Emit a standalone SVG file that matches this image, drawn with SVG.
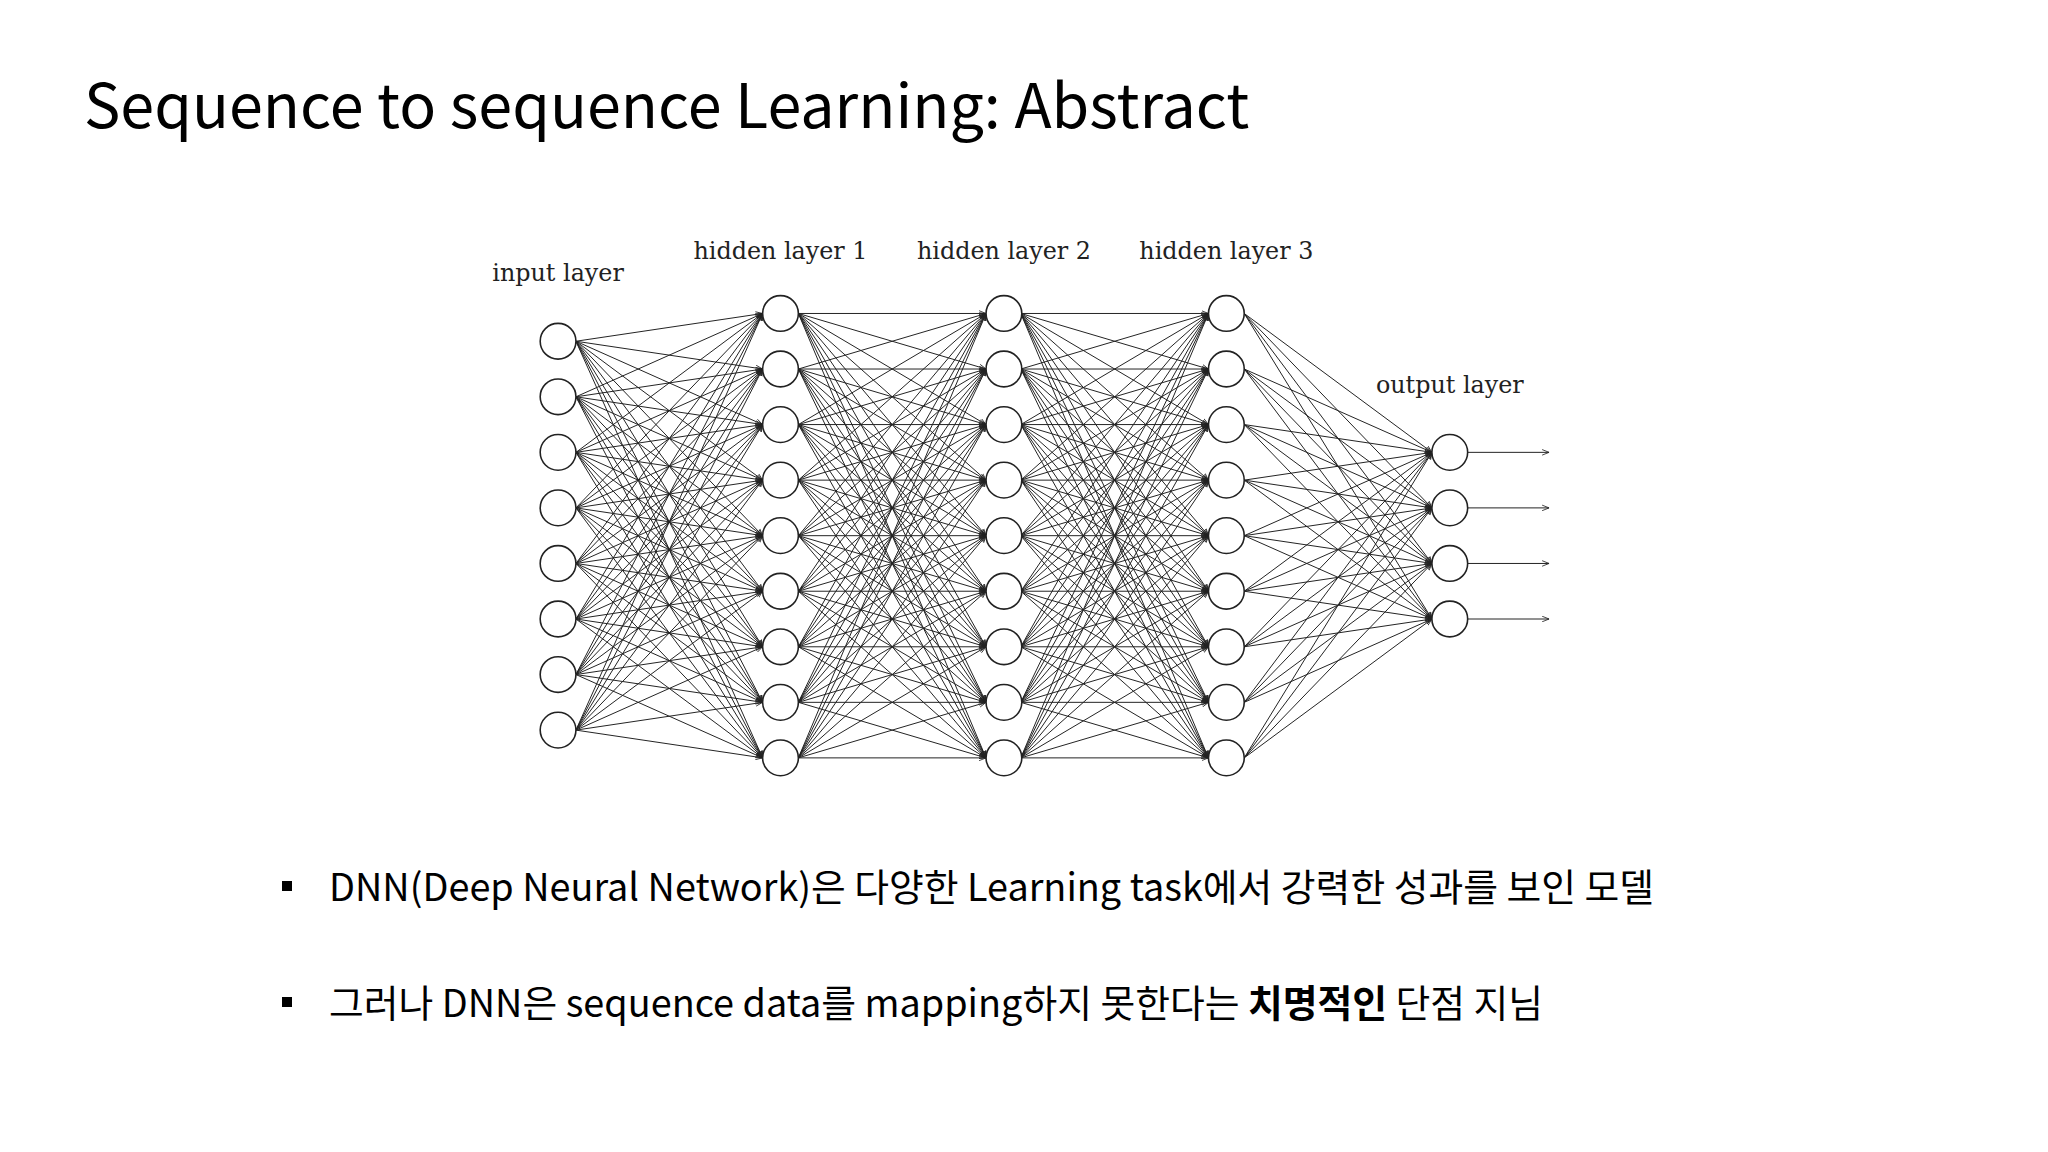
<svg xmlns="http://www.w3.org/2000/svg" xmlns:xlink="http://www.w3.org/1999/xlink" width="2048" height="1152" viewBox="0 0 2048 1152">
<style>
.t{font-family:"Noto Sans CJK KR","Noto Sans",sans-serif;fill:#000}
.lbl{font-family:"DejaVu Serif","Liberation Serif",serif;font-size:24px;fill:#222;text-anchor:middle}
.n circle{fill:#fff;stroke:#222;stroke-width:1.6}
</style>
<defs>
<marker id="a" viewBox="0 0 10 10" refX="10" refY="5" markerWidth="7" markerHeight="7" orient="auto"><path d="M0,1 L10,5 L0,9" fill="none" stroke="#222" stroke-width="1.2"/></marker>
<g id="hh" stroke="#222" stroke-width="1" marker-end="url(#a)">
<line x1="804" y1="316" x2="993" y2="316"/><line x1="804" y1="316" x2="993" y2="372"/><line x1="804" y1="316" x2="993" y2="428"/><line x1="804" y1="316" x2="993" y2="484"/><line x1="804" y1="316" x2="993" y2="540"/><line x1="804" y1="316" x2="993" y2="596"/><line x1="804" y1="316" x2="993" y2="652"/><line x1="804" y1="316" x2="993" y2="708"/><line x1="804" y1="316" x2="993" y2="764"/>
<line x1="804" y1="372" x2="993" y2="316"/><line x1="804" y1="372" x2="993" y2="372"/><line x1="804" y1="372" x2="993" y2="428"/><line x1="804" y1="372" x2="993" y2="484"/><line x1="804" y1="372" x2="993" y2="540"/><line x1="804" y1="372" x2="993" y2="596"/><line x1="804" y1="372" x2="993" y2="652"/><line x1="804" y1="372" x2="993" y2="708"/><line x1="804" y1="372" x2="993" y2="764"/>
<line x1="804" y1="428" x2="993" y2="316"/><line x1="804" y1="428" x2="993" y2="372"/><line x1="804" y1="428" x2="993" y2="428"/><line x1="804" y1="428" x2="993" y2="484"/><line x1="804" y1="428" x2="993" y2="540"/><line x1="804" y1="428" x2="993" y2="596"/><line x1="804" y1="428" x2="993" y2="652"/><line x1="804" y1="428" x2="993" y2="708"/><line x1="804" y1="428" x2="993" y2="764"/>
<line x1="804" y1="484" x2="993" y2="316"/><line x1="804" y1="484" x2="993" y2="372"/><line x1="804" y1="484" x2="993" y2="428"/><line x1="804" y1="484" x2="993" y2="484"/><line x1="804" y1="484" x2="993" y2="540"/><line x1="804" y1="484" x2="993" y2="596"/><line x1="804" y1="484" x2="993" y2="652"/><line x1="804" y1="484" x2="993" y2="708"/><line x1="804" y1="484" x2="993" y2="764"/>
<line x1="804" y1="540" x2="993" y2="316"/><line x1="804" y1="540" x2="993" y2="372"/><line x1="804" y1="540" x2="993" y2="428"/><line x1="804" y1="540" x2="993" y2="484"/><line x1="804" y1="540" x2="993" y2="540"/><line x1="804" y1="540" x2="993" y2="596"/><line x1="804" y1="540" x2="993" y2="652"/><line x1="804" y1="540" x2="993" y2="708"/><line x1="804" y1="540" x2="993" y2="764"/>
<line x1="804" y1="596" x2="993" y2="316"/><line x1="804" y1="596" x2="993" y2="372"/><line x1="804" y1="596" x2="993" y2="428"/><line x1="804" y1="596" x2="993" y2="484"/><line x1="804" y1="596" x2="993" y2="540"/><line x1="804" y1="596" x2="993" y2="596"/><line x1="804" y1="596" x2="993" y2="652"/><line x1="804" y1="596" x2="993" y2="708"/><line x1="804" y1="596" x2="993" y2="764"/>
<line x1="804" y1="652" x2="993" y2="316"/><line x1="804" y1="652" x2="993" y2="372"/><line x1="804" y1="652" x2="993" y2="428"/><line x1="804" y1="652" x2="993" y2="484"/><line x1="804" y1="652" x2="993" y2="540"/><line x1="804" y1="652" x2="993" y2="596"/><line x1="804" y1="652" x2="993" y2="652"/><line x1="804" y1="652" x2="993" y2="708"/><line x1="804" y1="652" x2="993" y2="764"/>
<line x1="804" y1="708" x2="993" y2="316"/><line x1="804" y1="708" x2="993" y2="372"/><line x1="804" y1="708" x2="993" y2="428"/><line x1="804" y1="708" x2="993" y2="484"/><line x1="804" y1="708" x2="993" y2="540"/><line x1="804" y1="708" x2="993" y2="596"/><line x1="804" y1="708" x2="993" y2="652"/><line x1="804" y1="708" x2="993" y2="708"/><line x1="804" y1="708" x2="993" y2="764"/>
<line x1="804" y1="764" x2="993" y2="316"/><line x1="804" y1="764" x2="993" y2="372"/><line x1="804" y1="764" x2="993" y2="428"/><line x1="804" y1="764" x2="993" y2="484"/><line x1="804" y1="764" x2="993" y2="540"/><line x1="804" y1="764" x2="993" y2="596"/><line x1="804" y1="764" x2="993" y2="652"/><line x1="804" y1="764" x2="993" y2="708"/><line x1="804" y1="764" x2="993" y2="764"/>
</g>
</defs>
<rect width="2048" height="1152" fill="#fff"/>
<text class="t" x="84" y="128" font-size="61">Sequence to sequence Learning: Abstract</text>
<g transform="matrix(0.993 0 0 0.992 0 0)">
<g id="labels">
<text class="lbl" x="562" y="283">input layer</text>
<text class="lbl" x="786" y="261">hidden layer 1</text>
<text class="lbl" x="1011" y="261">hidden layer 2</text>
<text class="lbl" x="1235" y="261">hidden layer 3</text>
<text class="lbl" x="1460" y="396">output layer</text>
</g>
<g id="connectors" stroke="#222" stroke-width="1" marker-end="url(#a)">
<g>
<line x1="580" y1="344" x2="768" y2="316"/><line x1="580" y1="344" x2="768" y2="372"/><line x1="580" y1="344" x2="768" y2="428"/><line x1="580" y1="344" x2="768" y2="484"/><line x1="580" y1="344" x2="768" y2="540"/><line x1="580" y1="344" x2="768" y2="596"/><line x1="580" y1="344" x2="768" y2="652"/><line x1="580" y1="344" x2="768" y2="708"/><line x1="580" y1="344" x2="768" y2="764"/>
<line x1="580" y1="400" x2="768" y2="316"/><line x1="580" y1="400" x2="768" y2="372"/><line x1="580" y1="400" x2="768" y2="428"/><line x1="580" y1="400" x2="768" y2="484"/><line x1="580" y1="400" x2="768" y2="540"/><line x1="580" y1="400" x2="768" y2="596"/><line x1="580" y1="400" x2="768" y2="652"/><line x1="580" y1="400" x2="768" y2="708"/><line x1="580" y1="400" x2="768" y2="764"/>
<line x1="580" y1="456" x2="768" y2="316"/><line x1="580" y1="456" x2="768" y2="372"/><line x1="580" y1="456" x2="768" y2="428"/><line x1="580" y1="456" x2="768" y2="484"/><line x1="580" y1="456" x2="768" y2="540"/><line x1="580" y1="456" x2="768" y2="596"/><line x1="580" y1="456" x2="768" y2="652"/><line x1="580" y1="456" x2="768" y2="708"/><line x1="580" y1="456" x2="768" y2="764"/>
<line x1="580" y1="512" x2="768" y2="316"/><line x1="580" y1="512" x2="768" y2="372"/><line x1="580" y1="512" x2="768" y2="428"/><line x1="580" y1="512" x2="768" y2="484"/><line x1="580" y1="512" x2="768" y2="540"/><line x1="580" y1="512" x2="768" y2="596"/><line x1="580" y1="512" x2="768" y2="652"/><line x1="580" y1="512" x2="768" y2="708"/><line x1="580" y1="512" x2="768" y2="764"/>
<line x1="580" y1="568" x2="768" y2="316"/><line x1="580" y1="568" x2="768" y2="372"/><line x1="580" y1="568" x2="768" y2="428"/><line x1="580" y1="568" x2="768" y2="484"/><line x1="580" y1="568" x2="768" y2="540"/><line x1="580" y1="568" x2="768" y2="596"/><line x1="580" y1="568" x2="768" y2="652"/><line x1="580" y1="568" x2="768" y2="708"/><line x1="580" y1="568" x2="768" y2="764"/>
<line x1="580" y1="624" x2="768" y2="316"/><line x1="580" y1="624" x2="768" y2="372"/><line x1="580" y1="624" x2="768" y2="428"/><line x1="580" y1="624" x2="768" y2="484"/><line x1="580" y1="624" x2="768" y2="540"/><line x1="580" y1="624" x2="768" y2="596"/><line x1="580" y1="624" x2="768" y2="652"/><line x1="580" y1="624" x2="768" y2="708"/><line x1="580" y1="624" x2="768" y2="764"/>
<line x1="580" y1="680" x2="768" y2="316"/><line x1="580" y1="680" x2="768" y2="372"/><line x1="580" y1="680" x2="768" y2="428"/><line x1="580" y1="680" x2="768" y2="484"/><line x1="580" y1="680" x2="768" y2="540"/><line x1="580" y1="680" x2="768" y2="596"/><line x1="580" y1="680" x2="768" y2="652"/><line x1="580" y1="680" x2="768" y2="708"/><line x1="580" y1="680" x2="768" y2="764"/>
<line x1="580" y1="736" x2="768" y2="316"/><line x1="580" y1="736" x2="768" y2="372"/><line x1="580" y1="736" x2="768" y2="428"/><line x1="580" y1="736" x2="768" y2="484"/><line x1="580" y1="736" x2="768" y2="540"/><line x1="580" y1="736" x2="768" y2="596"/><line x1="580" y1="736" x2="768" y2="652"/><line x1="580" y1="736" x2="768" y2="708"/><line x1="580" y1="736" x2="768" y2="764"/>
</g>
<use xlink:href="#hh" href="#hh"/>
<use xlink:href="#hh" href="#hh" x="224"/>
<g>
<line x1="1253" y1="316" x2="1442" y2="456"/><line x1="1253" y1="316" x2="1442" y2="512"/><line x1="1253" y1="316" x2="1442" y2="568"/><line x1="1253" y1="316" x2="1442" y2="624"/>
<line x1="1253" y1="372" x2="1442" y2="456"/><line x1="1253" y1="372" x2="1442" y2="512"/><line x1="1253" y1="372" x2="1442" y2="568"/><line x1="1253" y1="372" x2="1442" y2="624"/>
<line x1="1253" y1="428" x2="1442" y2="456"/><line x1="1253" y1="428" x2="1442" y2="512"/><line x1="1253" y1="428" x2="1442" y2="568"/><line x1="1253" y1="428" x2="1442" y2="624"/>
<line x1="1253" y1="484" x2="1442" y2="456"/><line x1="1253" y1="484" x2="1442" y2="512"/><line x1="1253" y1="484" x2="1442" y2="568"/><line x1="1253" y1="484" x2="1442" y2="624"/>
<line x1="1253" y1="540" x2="1442" y2="456"/><line x1="1253" y1="540" x2="1442" y2="512"/><line x1="1253" y1="540" x2="1442" y2="568"/><line x1="1253" y1="540" x2="1442" y2="624"/>
<line x1="1253" y1="596" x2="1442" y2="456"/><line x1="1253" y1="596" x2="1442" y2="512"/><line x1="1253" y1="596" x2="1442" y2="568"/><line x1="1253" y1="596" x2="1442" y2="624"/>
<line x1="1253" y1="652" x2="1442" y2="456"/><line x1="1253" y1="652" x2="1442" y2="512"/><line x1="1253" y1="652" x2="1442" y2="568"/><line x1="1253" y1="652" x2="1442" y2="624"/>
<line x1="1253" y1="708" x2="1442" y2="456"/><line x1="1253" y1="708" x2="1442" y2="512"/><line x1="1253" y1="708" x2="1442" y2="568"/><line x1="1253" y1="708" x2="1442" y2="624"/>
<line x1="1253" y1="764" x2="1442" y2="456"/><line x1="1253" y1="764" x2="1442" y2="512"/><line x1="1253" y1="764" x2="1442" y2="568"/><line x1="1253" y1="764" x2="1442" y2="624"/>
</g>
<line x1="1478" y1="456" x2="1560" y2="456"/><line x1="1478" y1="512" x2="1560" y2="512"/><line x1="1478" y1="568" x2="1560" y2="568"/><line x1="1478" y1="624" x2="1560" y2="624"/>
</g>
<g id="input" class="n">
<circle cx="562" cy="344" r="18"/><circle cx="562" cy="400" r="18"/><circle cx="562" cy="456" r="18"/><circle cx="562" cy="512" r="18"/><circle cx="562" cy="568" r="18"/><circle cx="562" cy="624" r="18"/><circle cx="562" cy="680" r="18"/><circle cx="562" cy="736" r="18"/>
</g>
<g id="hidden1" class="n">
<circle cx="786" cy="316" r="18"/><circle cx="786" cy="372" r="18"/><circle cx="786" cy="428" r="18"/><circle cx="786" cy="484" r="18"/><circle cx="786" cy="540" r="18"/><circle cx="786" cy="596" r="18"/><circle cx="786" cy="652" r="18"/><circle cx="786" cy="708" r="18"/><circle cx="786" cy="764" r="18"/>
</g>
<g id="hidden2" class="n">
<circle cx="1011" cy="316" r="18"/><circle cx="1011" cy="372" r="18"/><circle cx="1011" cy="428" r="18"/><circle cx="1011" cy="484" r="18"/><circle cx="1011" cy="540" r="18"/><circle cx="1011" cy="596" r="18"/><circle cx="1011" cy="652" r="18"/><circle cx="1011" cy="708" r="18"/><circle cx="1011" cy="764" r="18"/>
</g>
<g id="hidden3" class="n">
<circle cx="1235" cy="316" r="18"/><circle cx="1235" cy="372" r="18"/><circle cx="1235" cy="428" r="18"/><circle cx="1235" cy="484" r="18"/><circle cx="1235" cy="540" r="18"/><circle cx="1235" cy="596" r="18"/><circle cx="1235" cy="652" r="18"/><circle cx="1235" cy="708" r="18"/><circle cx="1235" cy="764" r="18"/>
</g>
<g id="output" class="n">
<circle cx="1460" cy="456" r="18"/><circle cx="1460" cy="512" r="18"/><circle cx="1460" cy="568" r="18"/><circle cx="1460" cy="624" r="18"/>
</g>
</g>
<g id="bullets">
<rect x="282" y="881" width="10" height="10" fill="#000"/>
<text class="t" x="329" y="901" font-size="37.8">DNN(Deep Neural Network)은 다양한 Learning task에서 강력한 성과를 보인 모델</text>
<rect x="282" y="997" width="10" height="10" fill="#000"/>
<text class="t" x="329" y="1017" font-size="37.8">그러나 DNN은 sequence data를 mapping하지 못한다는 <tspan font-weight="bold">치명적인</tspan> 단점 지님</text>
</g>
</svg>
